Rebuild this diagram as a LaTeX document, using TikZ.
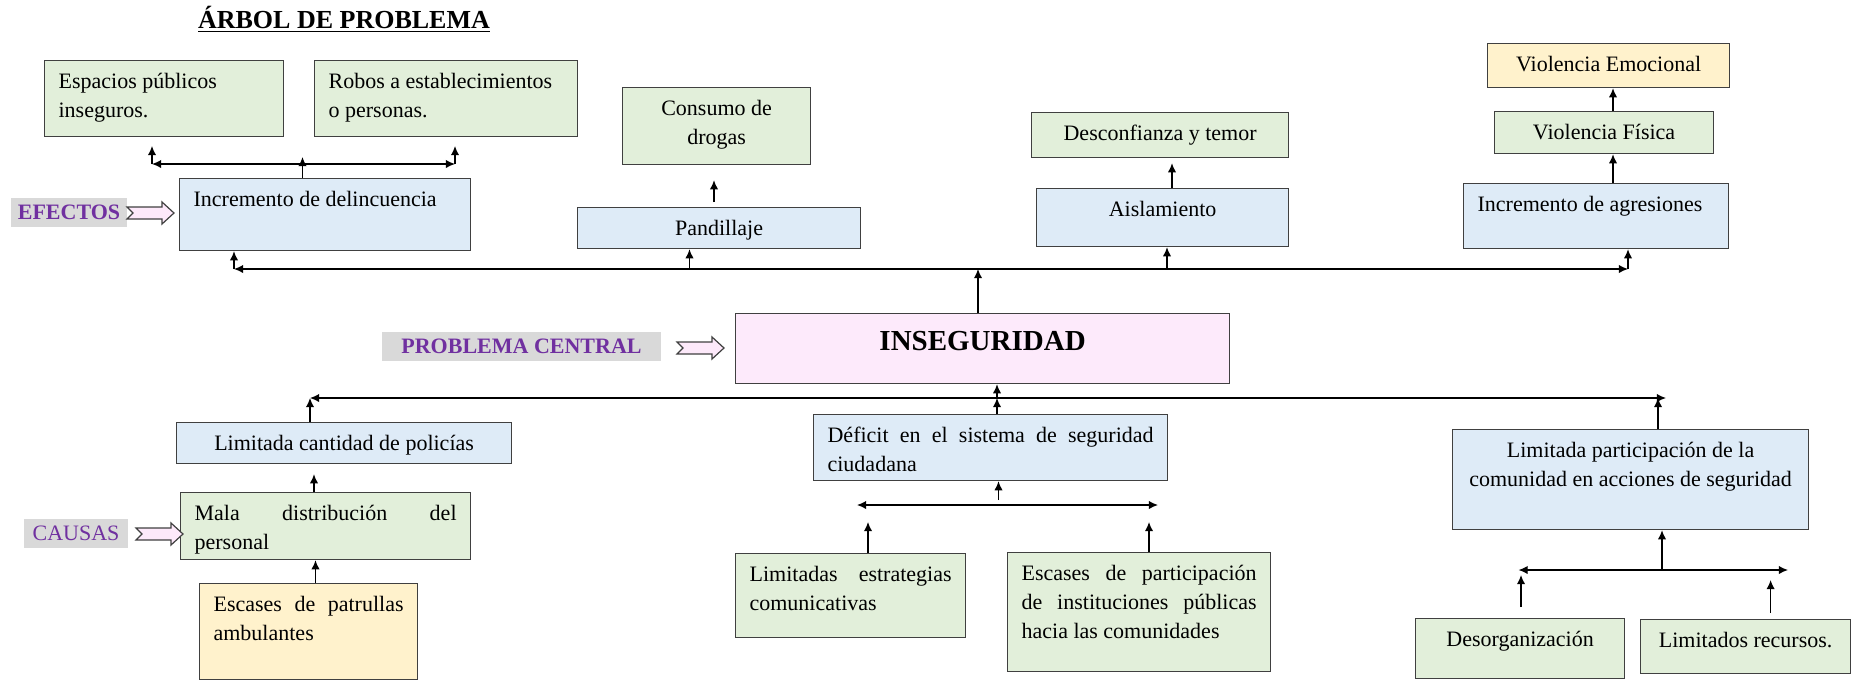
\documentclass[tikz,border=0pt]{standalone}
\usepackage{fontspec}
\setmainfont{Liberation Serif}
\usetikzlibrary{arrows.meta}
\definecolor{bxgreen}{HTML}{E2EFDA}
\definecolor{bxblue}{HTML}{DEEBF7}
\definecolor{bxyellow}{HTML}{FFF2CC}
\definecolor{bxpink}{HTML}{FDEAFB}
\definecolor{lblgray}{HTML}{D9D9D9}
\definecolor{lblpurple}{HTML}{7030A0}
\definecolor{bordergray}{HTML}{404040}
\definecolor{arrpink}{HTML}{FDE9FA}
\newcommand\bxx[8]{%
  \node[boxst,fill=#6,anchor=north west] (#1) at (#2,#3)
  {\parbox[c][\dimexpr(#5pt-#3pt)/2\relax][t]{\dimexpr(#4pt-#2pt)/2-14pt\relax}{#7\hyphenpenalty=10000\tolerance=9999\rule{0pt}{14pt}#8}};}
\newcommand\parrow[2]{\draw[parrowst] (#1,#2) ++(0,-6) -- ++(35,0) -- ++(0,-5) -- ++(12,11) -- ++(-12,11) -- ++(0,-5) -- ++(-35,0) -- ++(6,-6) -- cycle;}
\begin{document}
\begin{tikzpicture}[x=0.5pt,y=-0.5pt,
  font=\fontsize{11}{14.5}\selectfont,
  boxst/.style={draw=bordergray,line width=0.6pt,inner xsep=7pt,inner ysep=0pt},
  con/.style={line width=0.65pt,-{Latex[length=4.6pt,width=4.2pt]}},
  dcon/.style={line width=0.65pt,{Latex[length=4.6pt,width=4.2pt]}-{Latex[length=4.6pt,width=4.2pt]}},
  lbl/.style={fill=lblgray,text=lblpurple,font=\fontsize{11}{14}\selectfont\bfseries,inner sep=0pt,minimum height=14.5pt},
  parrowst/.style={draw=bordergray,fill=arrpink,line width=0.6pt}]
\useasboundingbox (0,0) rectangle (1857,681);

% title
\node[font=\fontsize{13}{15}\selectfont\bfseries,anchor=base] (tit) at (344,28) {\underline{ÁRBOL DE PROBLEMA}};

% effects
\bxx{esp}{44}{60}{283}{136}{bxgreen}{\raggedright}{Espacios públicos inseguros.}
\bxx{rob}{314}{60}{577}{136}{bxgreen}{\raggedright}{Robos a establecimientos o personas.}
\bxx{inc}{179}{178}{470}{250}{bxblue}{\raggedright}{Incremento de delincuencia}
\bxx{cons}{622}{87}{810}{164}{bxgreen}{\centering}{Consumo de drogas}
\bxx{pand}{577}{207}{860}{248}{bxblue}{\centering}{Pandillaje}
\bxx{desc}{1031}{112}{1288}{157}{bxgreen}{\centering}{Desconfianza y temor}
\bxx{aisl}{1036}{188}{1288}{246}{bxblue}{\centering}{Aislamiento}
\bxx{vemo}{1487}{43}{1729}{87}{bxyellow}{\centering}{Violencia Emocional}
\bxx{vfis}{1494}{111}{1713}{153}{bxgreen}{\centering}{Violencia Física}
\bxx{agr}{1463}{183}{1728}{248}{bxblue}{\raggedright}{Incremento de agresiones}

% central problem
\node[boxst,fill=bxpink,anchor=north west] (ins) at (735,313)
  {\parbox[c][35pt][t]{233pt}{\centering\fontsize{14.5}{16}\selectfont\bfseries\rule{0pt}{18.5pt}INSEGURIDAD}};

% causes
\bxx{lcp}{176}{422}{511}{463}{bxblue}{\centering}{Limitada cantidad de policías}
\bxx{mala}{180}{492}{470}{559}{bxgreen}{}{Mala distribución del personal}
\bxx{esc}{199}{583}{417}{679}{bxyellow}{}{Escases de patrullas ambulantes}
\bxx{def}{813}{414}{1167}{480}{bxblue}{}{Déficit en el sistema de seguridad ciudadana}
\bxx{lest}{735}{553}{965}{637}{bxgreen}{}{Limitadas estrategias comunicativas}
\bxx{epar}{1007}{552}{1270}{671}{bxgreen}{}{Escases de participación de instituciones públicas hacia las comunidades}
\bxx{lpar}{1452}{429}{1808}{529}{bxblue}{\centering}{Limitada participación de la comunidad en acciones de seguridad}
\bxx{desor}{1415}{618}{1624}{678}{bxgreen}{\centering}{Desorganización}
\bxx{lrec}{1640}{619}{1850}{673}{bxgreen}{\centering}{Limitados recursos.}

% side labels
\node[lbl,minimum width=58pt] (efe) at (69,212.5) {EFECTOS};
\node[lbl,minimum width=52pt,font=\fontsize{11}{14}\selectfont] (cau) at (76,533.5) {CAUSAS};
\node[lbl,minimum width=139.5pt] (pcen) at (521.5,346.5) {PROBLEMA CENTRAL};
\parrow{127}{213}
\parrow{136}{534}
\parrow{677}{348}

% effects connectors
\coordinate (eL) at (234,269);
\coordinate (eR) at (1628,269);
\coordinate (ePand) at (689.5,269);
\coordinate (eIns) at (978,269);
\coordinate (eAis) at (1167,269);
\draw[dcon] (eL) -- (eR);
\draw[con] (eL) -- (eL |- inc.south);
\draw[con] (ePand) -- (ePand |- pand.south);
\draw[con] (eIns |- ins.north) -- (eIns);
\draw[con] (eAis) -- (eAis |- aisl.south);
\draw[con] (eR) -- (eR |- agr.south);

\coordinate (iL) at (152,164);
\coordinate (iR) at (455,164);
\coordinate (iLt) at (152,146);
\coordinate (iRt) at (455,146);
\coordinate (iM) at (302.5,157);
\draw[dcon] (iL) -- (iR);
\draw[con] (iL) -- (iLt);
\draw[con] (iR) -- (iRt);
\draw[con] (iM |- inc.north) -- (iM);

\coordinate (cx) at (714,0);
\coordinate (ax) at (1172,0);
\coordinate (vx) at (1613,0);
\draw[con,shorten <=2.5pt,shorten >=7.5pt] (pand.north -| cx) -- (cons.south -| cx);
\draw[con,shorten >=2.5pt] (aisl.north -| ax) -- (desc.south -| ax);
\draw[con] (agr.north -| vx) -- (vfis.south -| vx);
\draw[con] (vfis.north -| vx) -- (vemo.south -| vx);

% causes connectors
\coordinate (cL) at (310,398);
\coordinate (cR) at (1666,398);
\coordinate (cRu) at (1658,398);
\coordinate (cD) at (997,398);
\draw[dcon] (cL) -- (cR);
\draw[con] (cL |- lcp.north) -- (cL);
\draw[con] (cRu |- lpar.north) -- (cRu);
\draw[con] (cD |- def.north) -- (cD);
\draw[con] (cD) -- (cD |- ins.south);

\coordinate (mx) at (314,0);
\coordinate (ex) at (315.5,0);
\draw[con,shorten >=5pt] (mala.north -| mx) -- (lcp.south -| mx);
\draw[con] (esc.north -| ex) -- (mala.south -| ex);

\coordinate (dL) at (857,505);
\coordinate (dR) at (1158,505);
\coordinate (dM) at (998.5,500);
\coordinate (dLt) at (868,522);
\coordinate (dRt) at (1149,522);
\draw[dcon] (dL) -- (dR);
\draw[con] (dM) -- (dM |- def.south);
\draw[con] (dLt |- lest.north) -- (dLt);
\draw[con] (dRt |- epar.north) -- (dRt);

\coordinate (pL) at (1518.5,570);
\coordinate (pR) at (1788,570);
\coordinate (pM) at (1662,570);
\coordinate (pLt) at (1521,575);
\coordinate (pRt) at (1770.6,580);
\draw[dcon] (pL) -- (pR);
\draw[con] (pM) -- (pM |- lpar.south);
\draw[con,shorten <=5.5pt] (pLt |- desor.north) -- (pLt);
\draw[con,shorten <=3pt] (pRt |- lrec.north) -- (pRt);
\end{tikzpicture}
\end{document}
